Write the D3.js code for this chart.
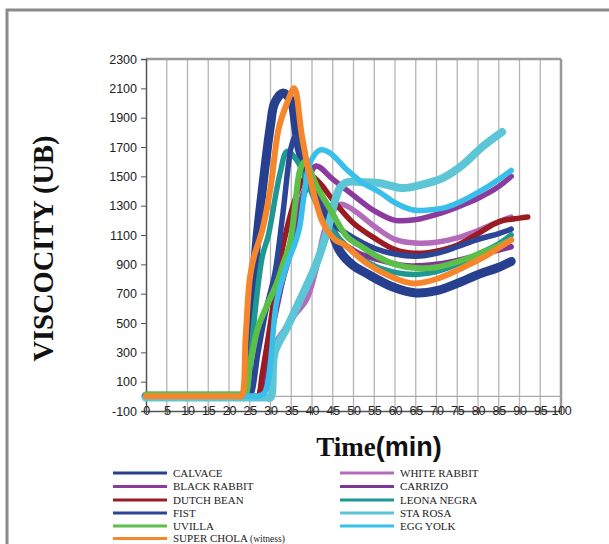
<!DOCTYPE html>
<html><head><meta charset="utf-8">
<script src="https://cdn.jsdelivr.net/npm/d3@7"></script>
<style>body{margin:0;background:#fff}svg{display:block}</style>
</head><body>
<svg id="c" width="609" height="544"></svg>
<script>
const seriesNames = ["CALVACE","WHITE RABBIT","BLACK RABBIT","CARRIZO","DUTCH BEAN","LEONA NEGRA","FIST","STA ROSA","UVILLA","EGG YOLK","SUPER CHOLA (witness)"];
const seriesColors = ["#263f8e","#b26cbb","#8b3a9e","#7d3596","#9b1b22","#1f9894","#2c4596","#5cc6d6","#5cbf47","#38c0ea","#f6862c"];
const xTicks = d3.range(0,101,5);
const yTicks = d3.range(-100,2301,200);

const calvace = [[0,0],[5,0],[10,0],[15,0],[20,0],[23,0],[24,0],[25,400],[26.7,1066],[28,1400],[30,1850],[31,2000],[33,2068],[35,2010],[36,1850],[37,1680],[39.5,1475],[42,1320],[44.3,1160],[46.7,990],[50,890],[53,840],[59.5,745],[65,705],[70,720],[75,770],[80,830],[85,880],[88,920]];
const whiteRabbit = [[0,0],[5,0],[10,0],[15,0],[20,0],[25,0],[27,0],[28,0],[29,120],[30.3,315],[32,400],[34,480],[36,560],[38.7,660],[41,870],[43,1130],[45,1260],[47,1310],[50,1270],[55,1160],[60,1070],[65,1045],[70,1050],[75,1080],[80,1130],[85,1190],[88,1222]];
const blackRabbit = [[0,0],[5,0],[10,0],[15,0],[20,0],[25,0],[26,0],[27,0],[28,100],[30,400],[33,800],[36,1200],[39,1470],[41,1570],[45,1480],[50,1370],[55,1265],[60,1200],[65,1205],[70,1240],[75,1290],[80,1350],[85,1430],[88,1500]];
const carrizo = [[0,0],[5,0],[10,0],[15,0],[20,0],[25,0],[26,0],[27,0],[29,300],[31,600],[33,800],[35,1000],[37,1250],[39,1420],[41,1380],[44,1200],[47,1060],[51,980],[55,940],[63,890],[70,900],[77,940],[84,990],[88,1020]];
const dutchBean = [[0,0],[5,0],[10,0],[15,0],[20,0],[25,0],[26,0],[27,0],[28,150],[30,500],[32,880],[34,1150],[36,1350],[38,1480],[40,1500],[42,1450],[45,1340],[50,1180],[55,1080],[60,1000],[65,975],[70,990],[75,1030],[80,1110],[85,1190],[90,1215],[92,1222]];
const leonaNegra = [[0,0],[5,0],[10,0],[15,0],[20,0],[23,0],[24,0],[25,200],[26,500],[28,950],[29.5,1100],[32.3,1520],[34,1670],[36.3,1610],[38.7,1470],[41,1320],[45,1130],[50,980],[55,890],[60,845],[65,830],[70,850],[75,900],[80,970],[85,1040],[88,1100]];
const fist = [[0,0],[5,0],[10,0],[15,0],[20,0],[24,0],[25,0],[27,300],[29,600],[31,830],[33,1250],[35,1700],[36,1770],[37,1700],[39,1500],[42,1300],[45,1180],[50,1080],[55,1010],[60,970],[65,955],[70,975],[75,1020],[80,1070],[85,1110],[88,1140]];
const staRosa = [[0,-8],[5,-8],[10,-8],[15,-8],[20,-8],[25,-8],[29,-8],[30,-8],[31,300],[34,470],[37,650],[41,900],[43.5,1110],[46.7,1420],[48.4,1460],[52,1460],[56,1455],[62,1420],[66,1440],[71.6,1490],[76.4,1580],[81,1700],[85.8,1802]];
const uvilla = [[0,12],[5,12],[10,12],[15,12],[20,12],[23,12],[24,12],[25,200],[27,470],[29,610],[31.5,770],[33,900],[34.7,1045],[36,1320],[37.1,1540],[38.3,1600],[41.2,1430],[44.3,1280],[48.4,1090],[52,1020],[56,950],[60,900],[65,875],[70,880],[76.4,930],[82,990],[88,1066]];
const eggYolk = [[0,0],[5,0],[10,0],[15,0],[20,0],[25,0],[26,0],[27,0],[28.7,30],[31.5,650],[34,900],[36,1050],[37,1150],[38,1350],[39.5,1590],[42,1680],[44.3,1660],[48.4,1545],[52,1460],[56.4,1390],[60,1320],[64.4,1270],[68,1270],[72.5,1290],[76,1330],[80,1390],[84,1460],[88,1540]];
const superChola = [[0,0],[5,0],[10,0],[15,0],[20,0],[22,0],[23,0],[24,400],[25,800],[26,950],[28,1130],[30,1420],[32,1830],[34,2000],[35.7,2100],[37.6,1770],[40,1430],[42.7,1180],[45.5,1070],[48,1030],[53,910],[59.5,810],[64.4,770],[70,800],[76.5,880],[82,960],[88,1066]];
const seriesData = [calvace,whiteRabbit,blackRabbit,carrizo,dutchBean,leonaNegra,fist,staRosa,uvilla,eggYolk,superChola];
const seriesWidths = [9,5.5,5.5,5.5,5.5,5.5,5.5,8,6,5.5,6];

const svg = d3.select("#c");
// outer frame
svg.append("rect").attr("x",7).attr("y",10).attr("width",800).attr("height",700)
  .attr("fill","none").attr("stroke","#8a8a8a").attr("stroke-width",3);

const x = d3.scaleLinear().domain([0,100]).range([146,561]);
const y = d3.scaleLinear().domain([-100,2300]).range([411,59]);

// vertical gridlines
svg.append("g").selectAll("line").data(xTicks.slice(1)).join("line")
  .attr("x1",d=>x(d)).attr("x2",d=>x(d)).attr("y1",y(2300)).attr("y2",y(-100))
  .attr("stroke",d=>d===100?"#999":"#b5b5b5").attr("stroke-width",d=>d===100?2.5:1.3);
// top border & zero line
svg.append("line").attr("x1",x(0)).attr("x2",x(100)).attr("y1",y(2300)).attr("y2",y(2300)).attr("stroke","#999").attr("stroke-width",2.5);
svg.append("line").attr("x1",x(0)).attr("x2",x(100)).attr("y1",y(0)).attr("y2",y(0)).attr("stroke","#aaa").attr("stroke-width",1.3);

// y axis
const yAxis = d3.axisLeft(y).tickValues(yTicks).tickFormat(d=>String(d)).tickSize(5).tickPadding(4);
const gy = svg.append("g").attr("transform",`translate(${x(0)},0)`).call(yAxis);
gy.select(".domain").attr("stroke","#555").attr("stroke-width",1.5);
gy.selectAll(".tick line").attr("stroke","#555");
gy.selectAll("text").attr("font-family","'Liberation Sans', Arial, sans-serif").attr("font-size",12.5).attr("fill","#222");

// x axis
const xAxis = d3.axisBottom(x).tickValues(xTicks).tickFormat(d=>String(d)).tickSize(0).tickPadding(0);
const gx = svg.append("g").attr("transform",`translate(0,${y(-100)})`).call(xAxis);
gx.select(".domain").attr("stroke","#555").attr("stroke-width",1.3);
gx.selectAll("text").attr("font-family","'Liberation Sans', Arial, sans-serif").attr("font-size",12.5).attr("fill","#222")
  .attr("dy","0.35em").attr("y",0).attr("letter-spacing","-0.3");
gx.selectAll(".tick").append("line").attr("y1",-4).attr("y2",4).attr("stroke","#555");

// lines
const line = d3.line().x(d=>x(d[0])).y(d=>y(d[1])).curve(d3.curveCatmullRom.alpha(0.5));
svg.append("g").selectAll("path").data(seriesData).join("path")
  .attr("d",line).attr("fill","none")
  .attr("stroke",(d,i)=>seriesColors[i]).attr("stroke-width",(d,i)=>seriesWidths[i])
  .attr("stroke-linejoin","round").attr("stroke-linecap","round");

// titles
svg.append("text").attr("transform","translate(53,248.5) rotate(-90)").attr("text-anchor","middle")
  .attr("font-family","'Liberation Serif','Times New Roman',serif").attr("font-weight","bold").attr("font-size",28.5)
  .attr("fill","#111").text("VISCOCITY (UB)");
const xt = svg.append("text").attr("x",379).attr("y",456).attr("text-anchor","middle").attr("fill","#111").attr("font-weight","bold").attr("font-size",27);
xt.append("tspan").attr("font-family","'Liberation Serif','Times New Roman',serif").text("Time");
xt.append("tspan").attr("font-family","'Liberation Sans',Arial,sans-serif").text("(min)");

// legend
const legendRows = [473,486.5,500,513,526,538.5];
const legendCols = [113,340];
const order = [0,2,4,6,8,10,1,3,5,7,9];
const lg = svg.append("g");
order.forEach((si,k)=>{
  const col = k<6?0:1, row = k<6?k:k-6;
  const lx = legendCols[col], ly = legendRows[row];
  lg.append("line").attr("x1",lx).attr("x2",lx+54).attr("y1",ly).attr("y2",ly)
    .attr("stroke",seriesColors[si]).attr("stroke-width",3);
  const t = lg.append("text").attr("x",lx+60).attr("y",ly).attr("dy","0.35em")
    .attr("font-family","'Liberation Serif','Times New Roman',serif").attr("font-size",11).attr("fill","#222");
  if (si===10){ t.append("tspan").text("SUPER CHOLA "); t.append("tspan").attr("font-size",9.5).text("(witness)"); }
  else t.text(seriesNames[si]);
});
</script>
</body></html>
